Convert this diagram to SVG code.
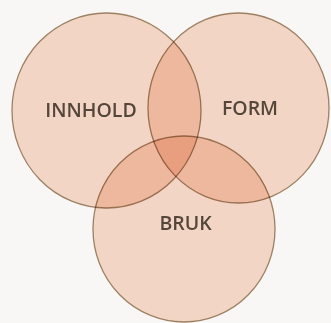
<svg xmlns="http://www.w3.org/2000/svg" width="331" height="323" viewBox="0 0 331 323">
<style>
.c{fill:#f9dccd;stroke:#a08566;stroke-width:1.3;mix-blend-mode:multiply}
.t{font-family:"Open Sans","Liberation Sans",sans-serif;font-size:19.5px;font-weight:600;fill:#54473a;text-anchor:middle}
</style>
<rect width="331" height="323" fill="#f9f7f5"/>
<g id="innhold"><ellipse class="c" cx="106.5" cy="110.5" rx="94.5" ry="97.5"/></g>
<g id="form"><ellipse class="c" cx="238.5" cy="108" rx="90.5" ry="95"/></g>
<g id="bruk"><ellipse class="c" cx="184" cy="229" rx="91" ry="93"/></g>
<g id="labels">
<text class="t" x="91" y="117">INNHOLD</text>
<text class="t" x="250" y="115">FORM</text>
<text class="t" x="185.5" y="230">BRUK</text>
</g>
</svg>
